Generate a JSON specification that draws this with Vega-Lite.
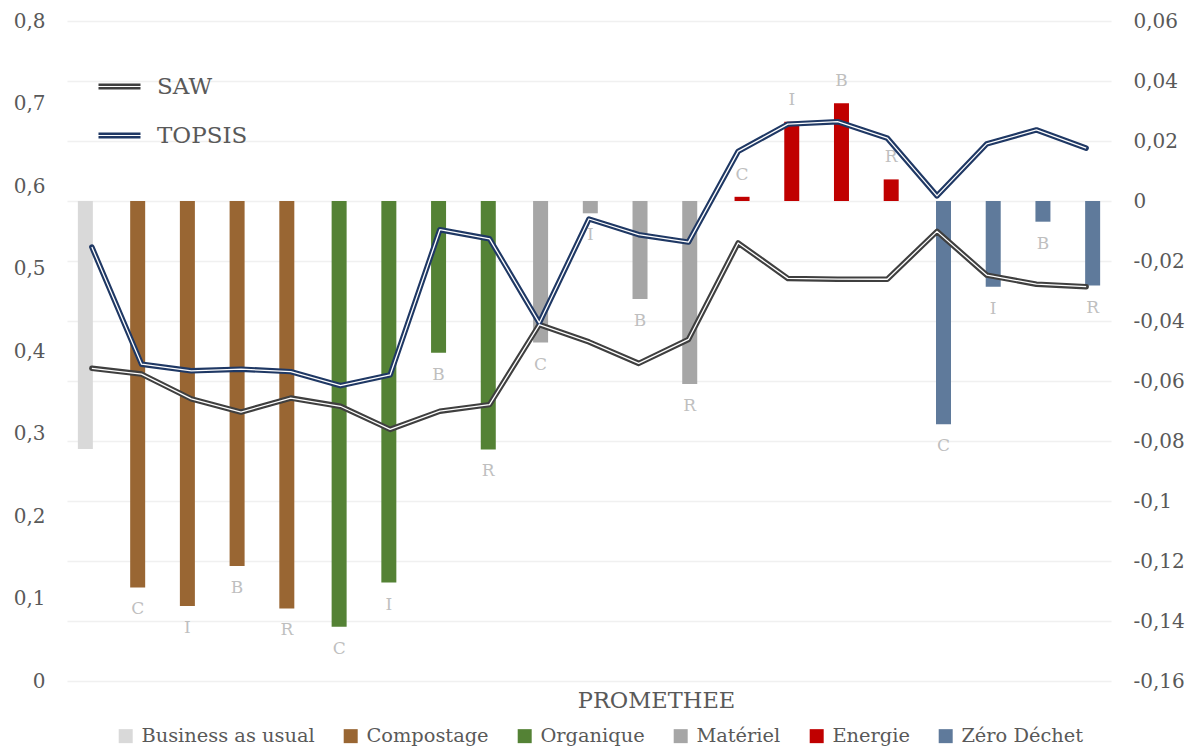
{
  "$schema": "https://vega.github.io/schema/vega-lite/v6.json",
  "width": 1044,
  "height": 660,
  "autosize": {"type": "none"},
  "padding": {"left": 67, "top": 21, "right": 89, "bottom": 65},
  "data": {
    "values": [
      {"cat": "BAU", "group": "Business as usual", "lab": "", "prom": -0.0827, "SAW": 0.379, "TOPSIS": 0.526},
      {"cat": "Compostage C", "group": "Compostage", "lab": "C", "prom": -0.1288, "SAW": 0.372, "TOPSIS": 0.384},
      {"cat": "Compostage I", "group": "Compostage", "lab": "I", "prom": -0.135, "SAW": 0.342, "TOPSIS": 0.376},
      {"cat": "Compostage B", "group": "Compostage", "lab": "B", "prom": -0.1217, "SAW": 0.326, "TOPSIS": 0.378},
      {"cat": "Compostage R", "group": "Compostage", "lab": "R", "prom": -0.1358, "SAW": 0.343, "TOPSIS": 0.375},
      {"cat": "Organique C", "group": "Organique", "lab": "C", "prom": -0.1419, "SAW": 0.333, "TOPSIS": 0.358},
      {"cat": "Organique I", "group": "Organique", "lab": "I", "prom": -0.1272, "SAW": 0.305, "TOPSIS": 0.371},
      {"cat": "Organique B", "group": "Organique", "lab": "B", "prom": -0.0506, "SAW": 0.327, "TOPSIS": 0.547},
      {"cat": "Organique R", "group": "Organique", "lab": "R", "prom": -0.0828, "SAW": 0.335, "TOPSIS": 0.536},
      {"cat": "Matériel C", "group": "Matériel", "lab": "C", "prom": -0.0472, "SAW": 0.432, "TOPSIS": 0.434},
      {"cat": "Matériel I", "group": "Matériel", "lab": "I", "prom": -0.0041, "SAW": 0.411, "TOPSIS": 0.56},
      {"cat": "Matériel B", "group": "Matériel", "lab": "B", "prom": -0.0327, "SAW": 0.385, "TOPSIS": 0.541},
      {"cat": "Matériel R", "group": "Matériel", "lab": "R", "prom": -0.061, "SAW": 0.414, "TOPSIS": 0.532},
      {"cat": "Energie C", "group": "Energie", "lab": "C", "prom": 0.0014, "SAW": 0.531, "TOPSIS": 0.642},
      {"cat": "Energie I", "group": "Energie", "lab": "I", "prom": 0.0264, "SAW": 0.488, "TOPSIS": 0.675},
      {"cat": "Energie B", "group": "Energie", "lab": "B", "prom": 0.0326, "SAW": 0.487, "TOPSIS": 0.678},
      {"cat": "Energie R", "group": "Energie", "lab": "R", "prom": 0.0072, "SAW": 0.487, "TOPSIS": 0.658},
      {"cat": "Zéro Déchet C", "group": "Zéro Déchet", "lab": "C", "prom": -0.0744, "SAW": 0.545, "TOPSIS": 0.588},
      {"cat": "Zéro Déchet I", "group": "Zéro Déchet", "lab": "I", "prom": -0.0286, "SAW": 0.492, "TOPSIS": 0.651},
      {"cat": "Zéro Déchet B", "group": "Zéro Déchet", "lab": "B", "prom": -0.0069, "SAW": 0.481, "TOPSIS": 0.668},
      {"cat": "Zéro Déchet R", "group": "Zéro Déchet", "lab": "R", "prom": -0.0282, "SAW": 0.478, "TOPSIS": 0.646}
    ]
  },
  "config": {
    "font": "DejaVu Serif",
    "view": {"stroke": null},
    "axis": {
      "labelFont": "DejaVu Serif",
      "labelFontSize": 20,
      "labelColor": "#595959",
      "domain": false,
      "ticks": false,
      "tickSize": 0,
      "labelPadding": 22,
      "gridColor": "#f0f0f0",
      "gridWidth": 1.5,
      "labelFlush": false,
      "labelOverlap": false,
      "titleFont": "DejaVu Serif"
    },
    "axisX": {
      "labels": false,
      "grid": false,
      "titleFontSize": 22.5,
      "titleFontWeight": "normal",
      "titleColor": "#595959",
      "titleX": 589,
      "titleY": 19,
      "titleAlign": "center",
      "titleBaseline": "middle"
    }
  },
  "layer": [
    {
      "layer": [
        {
          "mark": {"type": "bar", "size": 15},
          "encoding": {
            "x": {"field": "cat", "type": "nominal", "sort": null, "title": "PROMETHEE", "scale": {"type": "band", "paddingInner": 0, "paddingOuter": 0}},
            "xOffset": {"field": "group", "type": "nominal", "sort": null, "scale": {"domain": ["Business as usual", "Compostage", "Organique", "Matériel", "Energie", "Zéro Déchet"], "range": [17.06, 32.66], "paddingInner": 0, "paddingOuter": 0}},
            "y": {
              "field": "prom", "type": "quantitative", "stack": null,
              "scale": {"domain": [-0.16, 0.06], "nice": false},
              "axis": {
                "orient": "right", "title": null, "grid": true,
                "values": [-0.16, -0.14, -0.12, -0.1, -0.08, -0.06, -0.04, -0.02, 0, 0.02, 0.04, 0.06],
                "labelExpr": "replace(replace(format(datum.value, '~g'), '.', ','), '\u2212', '-')"
              }
            },
            "color": {
              "field": "group", "type": "nominal", "sort": null,
              "scale": {
                "domain": ["Business as usual", "Compostage", "Organique", "Matériel", "Energie", "Zéro Déchet"],
                "range": ["#d9d9d9", "#996633", "#548235", "#a6a6a6", "#c00000", "#5f7a9b"]
              },
              "legend": {
                "orient": "none", "legendX": 49, "legendY": 705, "direction": "horizontal", "title": null,
                "symbolType": "square", "symbolSize": 196, "symbolStrokeWidth": 0, "symbolOpacity": 1,
                "labelFontSize": 19.4, "labelColor": "#595959", "labelOffset": 6, "columnPadding": 26, "labelLimit": 300, "padding": 0
              }
            }
          }
        },
        {
          "transform": [{"filter": "datum.lab != '' && datum.prom < 0"}],
          "mark": {"type": "text", "baseline": "middle", "align": "center", "dy": 22, "fontSize": 17, "color": "#bfbfbf"},
          "encoding": {
            "x": {"field": "cat", "type": "nominal", "sort": null, "title": "PROMETHEE"},
            "xOffset": {"field": "group", "type": "nominal", "sort": null},
            "y": {"field": "prom", "type": "quantitative"},
            "text": {"field": "lab"}
          }
        },
        {
          "transform": [{"filter": "datum.lab != '' && datum.prom >= 0"}],
          "mark": {"type": "text", "baseline": "middle", "align": "center", "dy": -22, "fontSize": 17, "color": "#bfbfbf"},
          "encoding": {
            "x": {"field": "cat", "type": "nominal", "sort": null, "title": "PROMETHEE"},
            "xOffset": {"field": "group", "type": "nominal", "sort": null},
            "y": {"field": "prom", "type": "quantitative"},
            "text": {"field": "lab"}
          }
        }
      ]
    },
    {
      "transform": [{"fold": ["SAW", "TOPSIS"], "as": ["method", "score"]}],
      "layer": [
        {
          "mark": {"type": "line", "strokeWidth": 5.5, "strokeJoin": "round", "strokeCap": "round"},
          "encoding": {
            "x": {"field": "cat", "type": "nominal", "sort": null, "title": "PROMETHEE", "scale": {"type": "band", "paddingInner": 0, "paddingOuter": 0}},
            "y": {
              "field": "score", "type": "quantitative",
              "scale": {"domain": [0, 0.8], "nice": false},
              "axis": {
                "orient": "left", "title": null, "grid": false,
                "values": [0, 0.1, 0.2, 0.3, 0.4, 0.5, 0.6, 0.7, 0.8],
                "labelExpr": "replace(replace(format(datum.value, '~g'), '.', ','), '\u2212', '-')"
              }
            },
            "color": {
              "field": "method", "type": "nominal",
              "scale": {"domain": ["SAW", "TOPSIS"], "range": ["#3f3f3f", "#1f3864"]},
              "legend": {
                "orient": "none", "legendX": 30, "legendY": 43, "title": null,
                "symbolType": "M-1,-0.08H1M-1,0.08H1", "symbolSize": 1764, "symbolStrokeWidth": 2.4,
                "labelFontSize": 23, "labelColor": "#595959", "labelOffset": 15, "rowPadding": 14, "padding": 0
              }
            }
          }
        },
        {
          "mark": {"type": "line", "strokeWidth": 1.3, "color": "white", "strokeJoin": "round"},
          "encoding": {
            "x": {"field": "cat", "type": "nominal", "sort": null, "title": "PROMETHEE"},
            "y": {"field": "score", "type": "quantitative"},
            "detail": {"field": "method"}
          }
        }
      ]
    }
  ],
  "resolve": {"scale": {"y": "independent", "color": "independent"}}
}
